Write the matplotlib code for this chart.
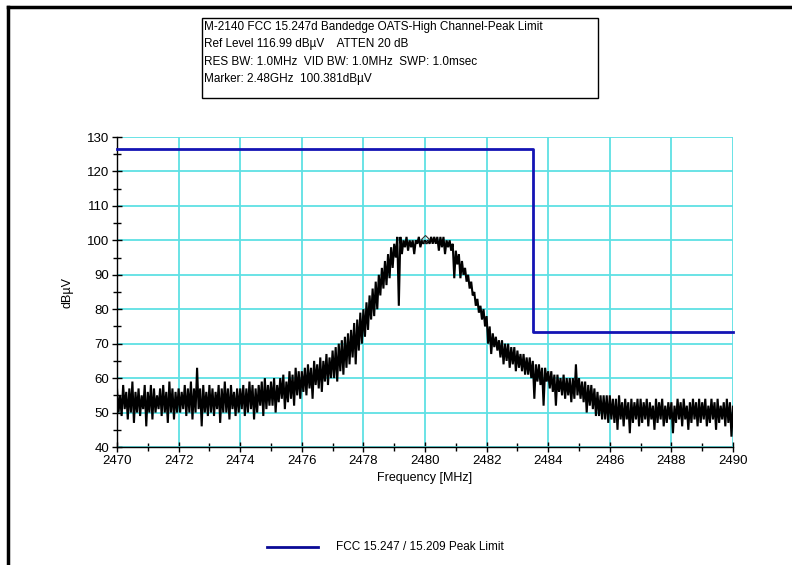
import numpy as np
import matplotlib.pyplot as plt
from matplotlib.lines import Line2D
from matplotlib.patches import Rectangle
from matplotlib.ticker import MultipleLocator

plt.rcParams['font.family'] = ['Liberation Sans', 'DejaVu Sans']

# Spectrum trace, every 0.1 MHz: upper and lower edge of the noise band
f_start, f_step = 2470.0, 0.1
trace_hi = [
    57, 55, 58, 56, 57, 59, 56, 57, 55, 58,
    56, 58, 57, 55, 57, 58, 56, 59, 57, 56,
    57, 56, 58, 57, 59, 57, 63, 57, 58, 56,
    58, 57, 56, 58, 57, 59, 57, 58, 56, 57,
    57, 58, 57, 59, 58, 57, 58, 59, 60, 58,
    59, 60, 58, 60, 61, 59, 62, 61, 63, 62,
    62, 63, 64, 63, 65, 64, 66, 65, 67, 66,
    68, 69, 70, 71, 72, 73, 74, 76, 77, 79,
    80, 82, 84, 86, 88, 90, 92, 94, 96, 98,
    99, 101, 101, 100, 101, 100, 100, 100, 101, 100,
    100, 100, 101, 101, 101, 101, 101, 100, 100, 99,
    97, 96, 94, 92, 90, 88, 85, 83, 81, 80,
    78, 75, 73, 72, 71, 71, 70, 70, 69, 69,
    68, 67, 67, 66, 66, 65, 64, 64, 63, 63,
    62, 62, 61, 61, 60, 61, 60, 60, 60, 64,
    60, 59, 59, 58, 58, 57, 56, 55, 55, 55,
    55, 54, 54, 55, 53, 54, 53, 54, 53, 54,
    54, 53, 54, 53, 52, 54, 53, 54, 52, 53,
    53, 52, 54, 53, 54, 52, 53, 54, 53, 54,
    53, 54, 52, 54, 53, 54, 52, 53, 54, 53,
    52,
]
trace_lo = [
    50, 49, 51, 48, 50, 47, 50, 49, 51, 46,
    50, 48, 50, 51, 49, 50, 47, 50, 48, 50,
    50, 51, 49, 50, 48, 50, 51, 46, 50, 49,
    50, 49, 51, 47, 50, 50, 48, 51, 49, 50,
    51, 49, 50, 51, 48, 50, 52, 49, 51, 52,
    52, 50, 53, 54, 51, 53, 54, 52, 55, 54,
    56, 55, 57, 54, 58, 57, 56, 59, 58, 60,
    60, 59, 62, 61, 63, 64, 66, 64, 68, 70,
    72, 74, 77, 78, 80, 84, 86, 87, 89, 92,
    95, 81, 96, 98, 97, 98, 96, 99, 98, 99,
    99, 99, 99, 99, 97, 98, 96, 98, 97, 89,
    93, 89, 90, 88, 86, 84, 81, 79, 77, 75,
    70, 67, 69, 68, 66, 64, 65, 63, 64, 62,
    63, 62, 61, 61, 60, 54, 59, 58, 52, 59,
    57, 56, 52, 56, 55, 54, 55, 53, 54, 55,
    54, 53, 50, 52, 51, 49, 49, 48, 48, 47,
    48, 47, 45, 48, 46, 48, 44, 47, 48, 46,
    47, 48, 46, 48, 45, 47, 48, 46, 47, 48,
    44, 47, 48, 46, 48, 45, 47, 48, 46, 47,
    48, 46, 47, 48, 45, 47, 48, 46, 47, 43,
    44,
]

# Peak limit line
limit_f = [2470, 2483.5, 2483.5, 2490]
limit_db = [126.5, 126.5, 73.5, 73.5]

marker_f, marker_db = 2480.0, 100.381

header = [
    "M-2140 FCC 15.247d Bandedge OATS-High Channel-Peak Limit",
    "Ref Level 116.99 dB\u00b5V    ATTEN 20 dB",
    "RES BW: 1.0MHz  VID BW: 1.0MHz  SWP: 1.0msec",
    "Marker: 2.48GHz  100.381dB\u00b5V",
]

W, H = 792, 565
fig = plt.figure(figsize=(W / 100, H / 100), dpi=100)
ax = fig.add_axes([117 / W, 1 - 447 / H, 616 / W, 310 / H])

# zigzag between the upper and lower edge so it looks like the dense trace
f = f_start + f_step * np.arange(len(trace_hi))
hi = np.array(trace_hi, float)
lo = np.array(trace_lo, float)
xs = np.empty(2 * len(f))
ys = np.empty(2 * len(f))
xs[0::2] = f
xs[1::2] = f + f_step / 2
ys[0::2] = hi
ys[1::2] = lo
ax.plot(xs, ys, color='black', lw=1.5, zorder=3, solid_joinstyle='miter')

ax.plot(limit_f, limit_db, color='#1414B4', lw=2.0, zorder=4, clip_on=False)
ax.plot([marker_f], [marker_db], marker='D', ms=4, mfc='none', mec='#333333', mew=0.8, zorder=5)

ax.set_xlim(2470, 2490)
ax.set_ylim(40, 130)
ax.xaxis.set_major_locator(MultipleLocator(2))
ax.xaxis.set_minor_locator(MultipleLocator(1))
ax.yaxis.set_major_locator(MultipleLocator(10))
ax.yaxis.set_minor_locator(MultipleLocator(5))
ax.grid(True, which='major', color='#5EE0E4', lw=1.3, zorder=1)
ax.set_axisbelow(True)
for s in ['top', 'right']:
    ax.spines[s].set_visible(False)
for s in ['left', 'bottom']:
    ax.spines[s].set_linewidth(1.0)
ax.tick_params(which='both', direction='inout', labelsize=9.5, width=1.0, pad=2)
ax.tick_params(which='major', length=7)
ax.tick_params(which='minor', length=6)
ax.set_xlabel("Frequency [MHz]", fontsize=9, labelpad=4)
ax.set_ylabel("dB\u00b5V", fontsize=9, labelpad=10)

# header box
fig.add_artist(Rectangle((202 / W, 1 - 98 / H), 396 / W, 80 / H, transform=fig.transFigure,
                         fill=False, ec='black', lw=1.0))
for i, line in enumerate(header):
    fig.text(204 / W, 1 - (27 + 17.3 * i) / H, line, fontsize=8.5, va='center', ha='left')

# frame lines
fig.add_artist(Line2D([8 / W, 1], [1 - 7 / H, 1 - 7 / H], color='black', lw=2.5, transform=fig.transFigure))
fig.add_artist(Line2D([8 / W, 8 / W], [0, 1 - 7 / H], color='black', lw=2.5, transform=fig.transFigure))

# legend
fig.add_artist(Line2D([267 / W, 318 / W], [1 - 547 / H, 1 - 547 / H], color='#0A0A96', lw=2.0,
                      transform=fig.transFigure))
fig.text(336 / W, 1 - 547 / H, "FCC 15.247 / 15.209 Peak Limit", fontsize=8.5, va='center', ha='left')

fig.savefig('out.png', dpi=100)
